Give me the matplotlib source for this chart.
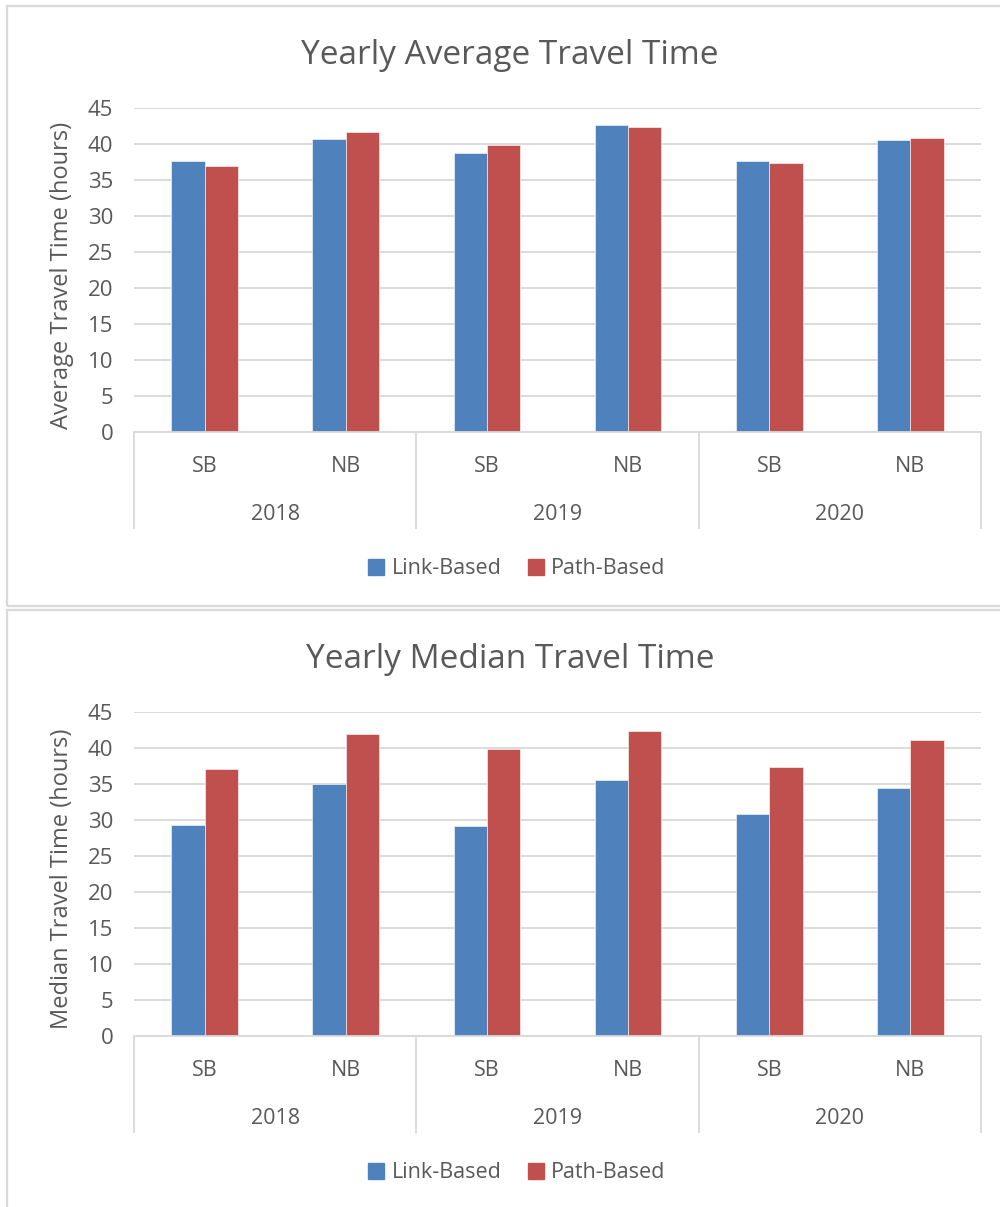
import numpy as np
import matplotlib
matplotlib.use("Agg")
import matplotlib.pyplot as plt
from matplotlib.patches import Patch, Rectangle
from matplotlib.transforms import blended_transform_factory

years = ["2018", "2019", "2020"]
directions = ["SB", "NB"]

# travel time in hours, ordered 2018 SB, 2018 NB, 2019 SB, ...
avg_link = [37.7, 40.7, 38.8, 42.7, 37.7, 40.5]
avg_path = [37.0, 41.7, 39.8, 42.3, 37.3, 40.9]
med_link = [29.3, 35.0, 29.2, 35.5, 30.9, 34.5]
med_path = [37.1, 42.0, 39.8, 42.4, 37.4, 41.1]

BLUE = "#4F81BD"
RED = "#C0504D"
GRID = "#D9D9D9"
TEXT = "#595959"

plt.rcParams["font.family"] = ["Open Sans", "DejaVu Sans"]

W, H = 1000, 1207
fig = plt.figure(figsize=(W / 100, H / 100), dpi=100)


def fx(x):
    return x / W


def fy(y):
    return 1 - y / H


def draw_panel(off, link, path, title, ylabel):
    # light frame around each chart
    fig.add_artist(Rectangle((fx(7), fy(off + 606)), fx(1010 - 7), 600 / H,
                             transform=fig.transFigure, fill=False,
                             edgecolor=GRID, lw=1.6))

    top, bottom, left, right = off + 108, off + 432, 134, 981
    ax = fig.add_axes([fx(left), fy(bottom), fx(right - left), (bottom - top) / H])

    x = np.arange(len(link))
    w = 0.236
    ax.bar(x - w / 2, link, w, color=BLUE, edgecolor="white", lw=0.4, label="Link-Based")
    ax.bar(x + w / 2, path, w, color=RED, edgecolor="white", lw=0.4, label="Path-Based")

    ax.set_xlim(-0.5, len(link) - 0.5)
    ax.set_ylim(0, 45)
    ax.set_yticks(np.arange(0, 46, 5))
    ax.set_xticks([])
    ax.yaxis.grid(True, color=GRID, lw=1.3)
    ax.set_axisbelow(True)
    for s in ["top", "right", "left"]:
        ax.spines[s].set_visible(False)
    ax.spines["bottom"].set_color(GRID)
    ax.spines["bottom"].set_linewidth(1.3)
    ax.tick_params(axis="y", length=0, pad=15, labelsize=16, labelcolor=TEXT)

    # two-level category axis: direction under each pair, year under each group
    h = bottom - top
    trans = blended_transform_factory(ax.transData, ax.transAxes)
    seps = np.arange(-0.5, len(link), 2)
    ax.vlines(seps, -97 / h, 0, transform=trans, colors=GRID, lw=1.3, clip_on=False)
    for i in x:
        ax.text(i, -34 / h, directions[i % 2], transform=trans, ha="center",
                va="center", fontsize=15.5, color=TEXT)
    for j, yr in enumerate(years):
        ax.text(2 * j + 0.5, -83 / h, yr, transform=trans, ha="center",
                va="center", fontsize=15.5, color=TEXT)

    fig.text(fx(510), fy(off + 55), title, ha="center", va="center",
             fontsize=24, color=TEXT)
    fig.text(fx(62), fy(off + 275), ylabel, ha="center", va="center",
             rotation=90, fontsize=17, color=TEXT)

    handles = [Patch(color=BLUE, label="Link-Based"), Patch(color=RED, label="Path-Based")]
    fig.legend(handles=handles, loc="center", bbox_to_anchor=(fx(517), fy(off + 569)),
               bbox_transform=fig.transFigure, ncol=2, frameon=False,
               handlelength=0.75, handleheight=0.75, handletextpad=0.35,
               columnspacing=1.2, fontsize=15.5, labelcolor=TEXT)
    return ax


draw_panel(0, avg_link, avg_path, "Yearly Average Travel Time",
           "Average Travel Time (hours)")
draw_panel(604, med_link, med_path, "Yearly Median Travel Time",
           "Median Travel Time (hours)")

fig.savefig("out.png", dpi=100, facecolor="white")
